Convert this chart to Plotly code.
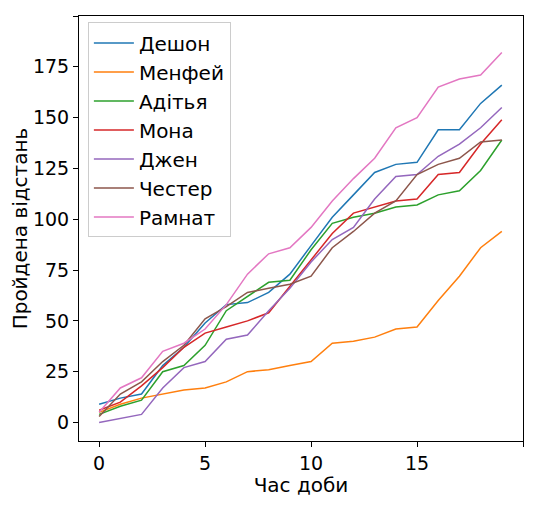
import plotly.graph_objects as go

hours = list(range(20))
names = ["Дешон", "Менфей", "Адітья", "Мона", "Джен", "Честер", "Рамнат"]
deshon = [9, 12, 14, 28, 37, 49, 58, 59, 64, 73, 87, 101, 112, 123, 127, 128, 144, 144, 157, 166]
menfei = [5, 9, 12, 14, 16, 17, 20, 25, 26, 28, 30, 39, 40, 42, 46, 47, 60, 72, 86, 94]
aditya = [4, 8, 11, 25, 28, 38, 55, 62, 69, 70, 85, 98, 101, 103, 106, 107, 112, 114, 124, 139]
mona = [6, 10, 18, 27, 37, 44, 47, 50, 54, 67, 80, 93, 103, 106, 109, 110, 122, 123, 137, 149]
jen = [0, 2, 4, 17, 27, 30, 41, 43, 55, 66, 79, 90, 96, 110, 121, 122, 131, 137, 145, 155]
chester = [3, 14, 20, 30, 38, 51, 57, 64, 66, 68, 72, 86, 94, 103, 109, 122, 127, 130, 138, 139]
ramnat = [5, 17, 22, 35, 39, 46, 58, 73, 83, 86, 96, 109, 120, 130, 145, 150, 165, 169, 171, 182]
series = [deshon, menfei, aditya, mona, jen, chester, ramnat]
colors = ["#1f77b4", "#ff7f0e", "#2ca02c", "#d62728", "#9467bd", "#8c564b", "#e377c2"]

fig = go.Figure()
for n, s, c in zip(names, series, colors):
    fig.add_trace(go.Scatter(x=hours, y=s, name=n, mode="lines", line=dict(color=c, width=1.5)))

ax = dict(showline=True, linecolor="black", linewidth=1, mirror=True, showgrid=False,
          zeroline=False, ticks="outside", ticklen=5, tickcolor="black",
          tickfont=dict(size=19, color="black"))
fig.update_layout(
    width=526, height=489, margin=dict(l=70, r=11, t=7, b=46),
    plot_bgcolor="white", paper_bgcolor="white",
    font=dict(family="DejaVu Sans", color="black"),
    xaxis=dict(**ax, range=[-0.95, 20.0], tickvals=[0, 5, 10, 15, 20],
               title=dict(text="Час доби", font=dict(size=20), standoff=2)),
    yaxis=dict(**ax, range=[-9.1, 200], tickvals=[0, 25, 50, 75, 100, 125, 150, 175, 200],
               title=dict(text="Пройдена відстань", font=dict(size=20), standoff=4)),
    legend=dict(x=0.02, y=0.985, xanchor="left", yanchor="top", bordercolor="#cccccc",
                borderwidth=1, bgcolor="rgba(255,255,255,0.8)", font=dict(size=20),
                itemwidth=40),
)
fig.write_html("out.html")
